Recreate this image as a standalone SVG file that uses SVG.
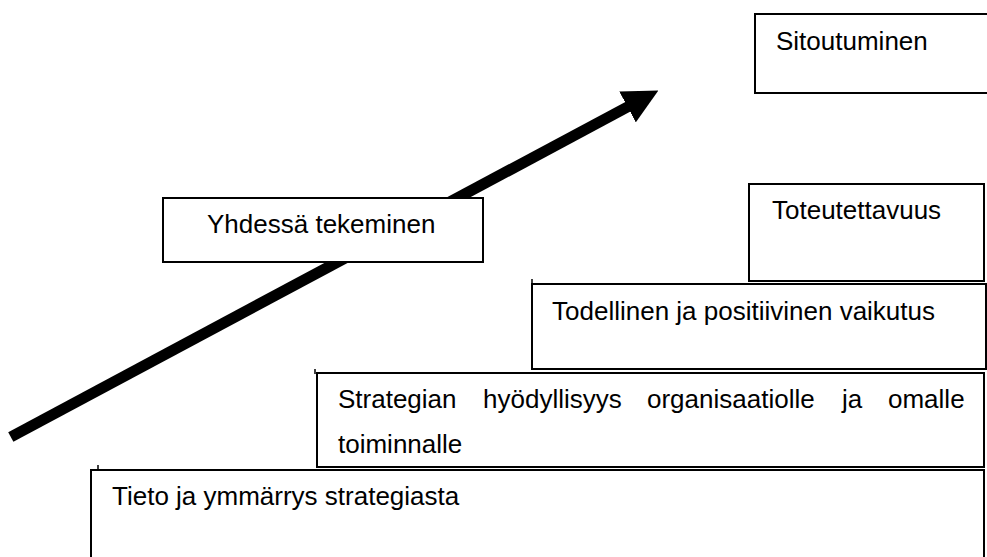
<svg xmlns="http://www.w3.org/2000/svg" width="987" height="557" viewBox="0 0 987 557">
  <style>
    .box { fill: #ffffff; stroke: #000000; stroke-width: 2; }
    .tick { stroke: #000000; stroke-width: 1.5; }
    .label { font-family: "Liberation Sans", Arial, sans-serif; font-size: 26px; fill: #000000; }
  </style>
  <defs>
    <marker id="arrowHead" markerUnits="userSpaceOnUse" viewBox="0 0 35 35" markerWidth="35" markerHeight="35" refX="2" refY="17.5" orient="auto">
      <path d="M0,0 L35,17.5 L0,35 Z" fill="#000000"/>
    </marker>
  </defs>
  <rect width="987" height="557" fill="#ffffff"/>

  <!-- rising arrow behind the boxes -->
  <g id="connectors">
    <line x1="10.8" y1="437" x2="629.3" y2="106" stroke="#000000" stroke-width="11" marker-end="url(#arrowHead)"/>
  </g>

  <!-- staircase of levels, top to bottom -->
  <g id="sitoutuminen">
    <rect class="box" x="755" y="14" width="240" height="79"/>
    <text class="label" x="776" y="50">Sitoutuminen</text>
  </g>

  <g id="toteutettavuus">
    <rect class="box" x="749" y="184" width="235" height="97"/>
    <text class="label" x="772" y="219">Toteutettavuus</text>
  </g>

  <g id="todellinen">
    <line class="tick" x1="532" y1="279" x2="532" y2="284"/>
    <rect class="box" x="532" y="284" width="454" height="85"/>
    <text class="label" x="552" y="320">Todellinen ja positiivinen vaikutus</text>
  </g>

  <g id="strategian">
    <line class="tick" x1="315" y1="369" x2="315" y2="374"/>
    <rect class="box" x="317" y="373" width="667" height="94"/>
    <text class="label" y="408">
      <tspan x="338">Strategian</tspan>
      <tspan x="483">hyödyllisyys</tspan>
      <tspan x="647">organisaatiolle</tspan>
      <tspan x="842">ja</tspan>
      <tspan x="888">omalle</tspan>
    </text>
    <text class="label" x="338" y="453">toiminnalle</text>
  </g>

  <g id="tieto">
    <line class="tick" x1="98" y1="465" x2="98" y2="470"/>
    <rect class="box" x="91" y="470" width="893" height="100"/>
    <text class="label" x="112" y="505">Tieto ja ymmärrys strategiasta</text>
  </g>

  <g id="yhdessa">
    <rect class="box" x="163" y="198" width="320" height="64"/>
    <text class="label" x="207" y="233">Yhdessä tekeminen</text>
  </g>
</svg>
